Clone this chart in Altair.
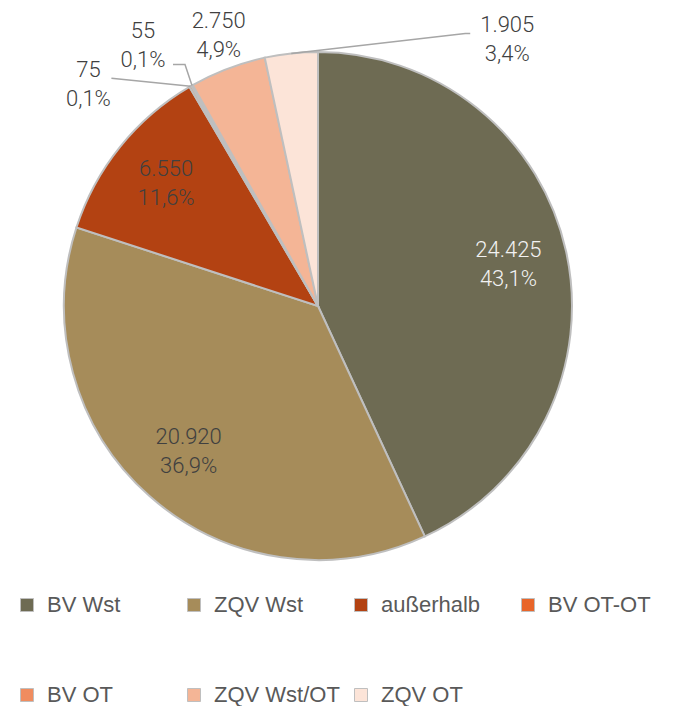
import altair as alt
import pandas as pd
import numpy as np

categories = ["BV Wst", "ZQV Wst", "außerhalb", "BV OT-OT", "BV OT", "ZQV Wst/OT", "ZQV OT"]
values = [24425, 20920, 6550, 75, 55, 2750, 1905]
colors = ["#6e6b53", "#a68c5a", "#b34212", "#e8652a", "#f08c5f", "#f4b596", "#fce4d8"]

total = sum(values)


def fmt_num(v):
    return f"{v:,}".replace(",", ".")


def fmt_pct(v):
    return f"{100 * v / total:.1f}".replace(".", ",") + "%"


df = pd.DataFrame({
    "cat": categories,
    "value": values,
    "idx": list(range(len(values))),
    "label": [fmt_num(v) + "\n" + fmt_pct(v) for v in values],
})

W, H = 620, 596
R = 254
R_IN = 195
LH = 29
cx, cy = W / 2, H / 2

base = alt.Chart(df)

arcs = base.mark_arc(outerRadius=R, stroke="#bfbfbf", strokeWidth=2).encode(
    theta=alt.Theta("value:Q", stack=True),
    color=alt.Color(
        "cat:N",
        scale=alt.Scale(domain=categories, range=colors),
        sort=categories,
        legend=alt.Legend(
            title=None, orient="none", legendX=8, legendY=586,
            direction="horizontal", columns=4, symbolType="square",
            symbolSize=169, symbolStrokeColor="#bfbfbf", symbolStrokeWidth=1,
            labelFont="Liberation Sans", labelFontSize=22, labelColor="#595959",
            labelOffset=9, columnPadding=10, rowPadding=68, gridAlign="all",
            padding=0, labelLimit=300,
        ),
    ),
    order=alt.Order("idx:Q"),
)


def label_base():
    return base.transform_window(
        cum="sum(value)", sort=[alt.SortField("idx")]
    ).transform_calculate(mid="datum.cum - datum.value / 2")


text_style = dict(font="Roboto", fontWeight=300, fontSize=22, lineBreak="\n",
                  lineHeight=LH, align="center", baseline="middle")

inner = label_base().transform_filter(
    alt.FieldOneOfPredicate(field="cat", oneOf=categories[:3])
).mark_text(radius=R_IN, dy=-LH / 2, **text_style).encode(
    theta=alt.Theta("mid:Q", stack=None),
    text="label:N",
    color=alt.when(alt.datum.cat == "BV Wst").then(alt.value("#f2f2f2")).otherwise(alt.value("#404040")),
)

# label offsets (pixels) from the slice's outer edge at its mid angle
outer_offsets = {
    "BV OT-OT": (-102, -2),
    "BV OT": (-49, -40),
    "ZQV Wst/OT": (-9, -33),
    "ZQV OT": (216, -14),
}

outer_layers = []
for cat, (dx, dy) in outer_offsets.items():
    outer_layers.append(
        label_base().transform_filter(alt.datum.cat == cat)
        .mark_text(radius=R, dx=dx, dy=dy - LH / 2, color="#404040", **text_style)
        .encode(theta=alt.Theta("mid:Q", stack=None), text="label:N")
    )

# leader lines: start at slice edge (from data), bend near label
vals = np.array(values, dtype=float)
mids = (np.cumsum(vals) - vals / 2) / total * 2 * np.pi
leader_bends = {
    "BV OT-OT": [(23, -6)],
    "BV OT": [(42, 19), (30, 19)],
    "ZQV OT": [(-42, -6), (-37, -6)],
}
rows = []
for cat, bends in leader_bends.items():
    i = categories.index(cat)
    ex = cx + R * np.sin(mids[i])
    ey = cy - R * np.cos(mids[i])
    dx, dy = outer_offsets[cat]
    lx, ly = ex + dx, ey + dy
    rows.append({"lid": cat, "k": 0, "px": ex, "py": ey})
    for k, (bx, by) in enumerate(bends, start=1):
        rows.append({"lid": cat, "k": k, "px": lx + bx, "py": ly + by})
lines_df = pd.DataFrame(rows)

leaders = alt.Chart(lines_df).mark_line(stroke="#a6a6a6", strokeWidth=1.5).encode(
    x=alt.X("px:Q", scale=alt.Scale(domain=[0, W], nice=False, zero=False), axis=None),
    y=alt.Y("py:Q", scale=alt.Scale(domain=[H, 0], nice=False, zero=False), axis=None),
    detail="lid:N",
    order="k:Q",
)

chart = alt.layer(arcs, leaders, inner, *outer_layers).properties(
    width=W, height=H, padding=0
).configure_view(stroke=None)

chart.save("out.html", embed_options={"renderer": "svg", "actions": False})
